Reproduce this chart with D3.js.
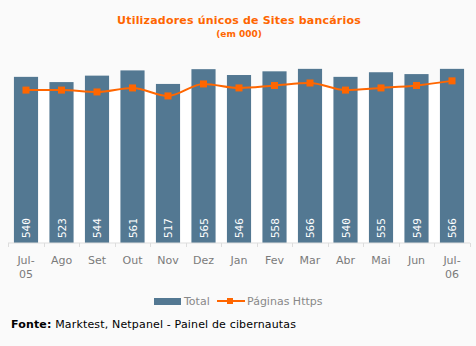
<!DOCTYPE html>
<html><head><meta charset="utf-8">
<script src="https://cdn.jsdelivr.net/npm/d3@7"></script>
<style>body{margin:0;background:#fafafa;}svg{display:block;}</style>
</head><body>
<script>
const months = ["Jul-05","Ago","Set","Out","Nov","Dez","Jan","Fev","Mar","Abr","Mai","Jun","Jul-06"];
const total = [540,523,544,561,517,565,546,558,566,540,555,549,566];
const https = [497,497,491,504,478,517,504,512,520,497,504,512,527];
const title = "Utilizadores únicos de Sites bancários";
const subtitle = "(em 000)";

const W=476,H=346;
const svg=d3.select("body").append("svg").attr("width",W).attr("height",H);
svg.append("rect").attr("width",W).attr("height",H).attr("fill","#fafafa");

const x=d3.scaleBand().domain(months).range([8.25,469.75]).paddingInner(0.32).paddingOuter(0.16);
const y=d3.scaleLinear().domain([0,600]).range([243,58.4]);
const cx=d=>x(d)+x.bandwidth()/2;

const pts=months.map((m,i)=>[cx(m),y(https[i])]);
const area=d3.area().x(d=>d[0]).y0(243).y1(d=>d[1]).curve(d3.curveMonotoneX);
svg.append("path").attr("d",area(pts)).attr("fill","#ffffff");

svg.selectAll(".bar").data(months).enter().append("rect")
  .attr("x",d=>x(d)).attr("width",x.bandwidth())
  .attr("y",(d,i)=>y(total[i])).attr("height",(d,i)=>243-y(total[i]))
  .attr("fill","#537892");

svg.selectAll(".val").data(months).enter().append("text")
  .attr("transform",(d,i)=>`translate(${cx(d)+4},238) rotate(-90)`)
  .attr("font-family","DejaVu Sans Mono, monospace").attr("font-size",11)
  .attr("fill","#ffffff").text((d,i)=>total[i]);

// axis
const ax=svg.append("g").attr("transform","translate(0,243)");
ax.append("line").attr("x1",8).attr("x2",470).attr("stroke","#dddddd");
const step=x.step();
d3.range(14).forEach(i=>{
  const xx=8.25+i*step;
  ax.append("line").attr("x1",Math.round(xx)+0.5).attr("x2",Math.round(xx)+0.5).attr("y1",0).attr("y2",4).attr("stroke","#dddddd");
});
months.forEach(m=>{
  const parts=m.includes("-")?[m.split("-")[0]+"-",m.split("-")[1]]:[m];
  const t=ax.append("text").attr("x",cx(m)).attr("y",21).attr("text-anchor","middle")
    .attr("font-family","Verdana, DejaVu Sans, sans-serif").attr("font-size",11).attr("fill","#7a7a7a");
  parts.forEach((p,j)=>t.append("tspan").attr("x",cx(m)).attr("dy",j?14:0).text(p));
});

const line=d3.line().curve(d3.curveMonotoneX);
svg.append("path").attr("d",line(pts)).attr("fill","none").attr("stroke","#ff6600").attr("stroke-width",2);
svg.selectAll(".mk").data(pts).enter().append("rect")
  .attr("x",d=>d[0]-3.5).attr("y",d=>d[1]-3.5).attr("width",7).attr("height",7).attr("fill","#ff6600");

// title
svg.append("text").attr("x",239).attr("y",24).attr("text-anchor","middle")
  .attr("font-family","Verdana, DejaVu Sans, sans-serif").attr("font-size",11).attr("font-weight","bold")
  .attr("letter-spacing",0.2).attr("fill","#ff6600").text(title);
svg.append("text").attr("x",239).attr("y",37).attr("text-anchor","middle")
  .attr("font-family","Verdana, DejaVu Sans, sans-serif").attr("font-size",9).attr("font-weight","bold")
  .attr("fill","#ff6600").text(subtitle);

// legend
const lg=svg.append("g");
lg.append("rect").attr("x",154).attr("y",298).attr("width",27).attr("height",7).attr("fill","#537892");
lg.append("text").attr("x",184).attr("y",305).attr("font-family","Verdana, DejaVu Sans, sans-serif").attr("font-size",11).attr("fill","#888888").text("Total");
lg.append("line").attr("x1",217).attr("x2",245).attr("y1",301).attr("y2",301).attr("stroke","#ff6600").attr("stroke-width",2);
lg.append("rect").attr("x",227).attr("y",298).attr("width",6).attr("height",6).attr("fill","#ff6600");
lg.append("text").attr("x",247).attr("y",305).attr("font-family","Verdana, DejaVu Sans, sans-serif").attr("font-size",11).attr("fill","#888888").text("Páginas Https");

// footer
const ft=svg.append("text").attr("x",11).attr("y",328).attr("font-family","Verdana, DejaVu Sans, sans-serif").attr("font-size",11).attr("letter-spacing",0.16).attr("fill","#000");
ft.append("tspan").attr("font-weight","bold").text("Fonte:");
ft.append("tspan").text(" Marktest, Netpanel - Painel de cibernautas");
</script>
</body></html>
